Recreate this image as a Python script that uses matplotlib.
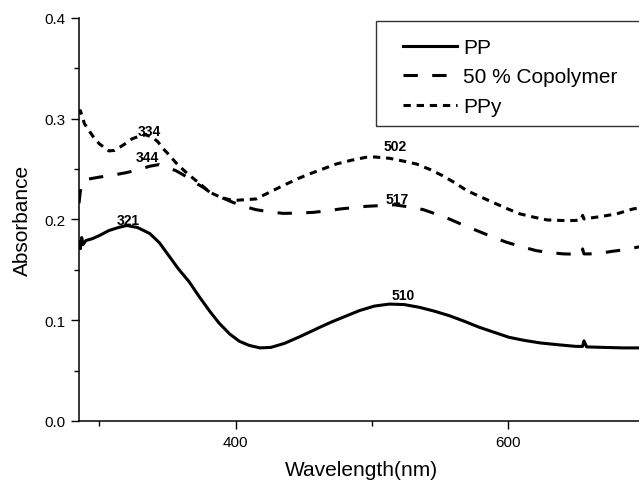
import matplotlib.pyplot as plt
from matplotlib.patches import Rectangle
from matplotlib.ticker import MultipleLocator

plt.rcParams['font.family'] = ['Liberation Sans', 'DejaVu Sans']

# absorbance spectra (wavelength in nm)
pp_nm = [285, 286, 287, 288, 290, 295, 300, 307, 314, 320, 328, 337, 344, 351,
         358, 366, 373, 381, 388, 396, 403, 410, 418, 426, 436, 447, 462, 471,
         481, 491, 502, 513, 524, 535, 546, 557, 568, 579, 590, 601, 612, 624,
         638, 650, 655, 656, 658, 670, 685, 700]
pp_abs = [0.178, 0.171, 0.182, 0.175, 0.179, 0.181, 0.184, 0.189, 0.192, 0.194,
          0.192, 0.186, 0.177, 0.164, 0.151, 0.138, 0.124, 0.109, 0.097, 0.086,
          0.079, 0.075, 0.0725, 0.073, 0.077, 0.0835, 0.093, 0.0985, 0.104,
          0.1095, 0.114, 0.116, 0.1155, 0.1128, 0.109, 0.1045, 0.099, 0.093,
          0.088, 0.083, 0.080, 0.0774, 0.0755, 0.074, 0.074, 0.0795, 0.0735,
          0.073, 0.0725, 0.0725]

copoly_nm = [285, 286, 288, 290, 300, 310, 320, 329, 337, 344, 349, 356, 362,
             368, 376, 383, 391, 398, 406, 415, 425, 435, 446, 457, 467, 477,
             487, 496, 506, 517, 527, 538, 547, 557, 568, 579, 589, 599, 610,
             621, 631, 641, 650, 654, 655, 656, 660, 668, 677, 686, 695, 700]
copoly_abs = [0.216, 0.228, 0.237, 0.2396, 0.242, 0.244, 0.2465, 0.2495, 0.2528,
              0.2545, 0.2518, 0.2485, 0.244, 0.2385, 0.232, 0.2253, 0.221, 0.217,
              0.213, 0.2097, 0.2075, 0.206, 0.2063, 0.207, 0.2085, 0.2104, 0.2118,
              0.213, 0.2137, 0.2145, 0.2125, 0.2097, 0.2055, 0.2005, 0.194, 0.188,
              0.1825, 0.1774, 0.173, 0.169, 0.167, 0.1658, 0.1655, 0.1655, 0.1707,
              0.1658, 0.1658, 0.1665, 0.1684, 0.170, 0.1724, 0.1735]

ppy_nm = [285, 286, 289, 293, 296, 300, 304, 307, 311, 315, 320, 324, 329, 334,
          339, 343, 347, 352, 356, 361, 366, 371, 376, 381, 389, 398, 406, 415,
          425, 435, 445, 454, 464, 474, 485, 496, 502, 513, 523, 533, 543, 552,
          561, 570, 579, 589, 599, 609, 619, 629, 643, 650, 654, 655, 656, 668,
          680, 692, 700]
ppy_abs = [0.305, 0.308, 0.295, 0.287, 0.281, 0.275, 0.271, 0.268, 0.2685,
           0.2717, 0.276, 0.280, 0.2825, 0.284, 0.2815, 0.277, 0.270, 0.263,
           0.2565, 0.250, 0.244, 0.2385, 0.233, 0.227, 0.222, 0.2187, 0.2195,
           0.2203, 0.227, 0.2336, 0.240, 0.245, 0.250, 0.255, 0.2587, 0.2617,
           0.262, 0.2607, 0.258, 0.255, 0.2495, 0.2435, 0.2365, 0.2286, 0.223,
           0.217, 0.211, 0.2055, 0.2023, 0.1995, 0.1988, 0.199, 0.200, 0.204,
           0.2005, 0.2028, 0.2055, 0.2104, 0.212]

# peak positions written on the curves
peak_labels = ['321', '334', '344', '502', '517', '510']
peak_x = [321, 337, 335, 517, 519, 523]
peak_y = [0.1995, 0.288, 0.2617, 0.2727, 0.2203, 0.1254]

W, H = 639, 485
fig = plt.figure(figsize=(W / 100, H / 100), dpi=100)
ax = fig.add_axes([0.1236, 0.130, 0.884, 0.831])

ax.plot(pp_nm, pp_abs, color='black', linewidth=2.2, label='PP')
ax.plot(copoly_nm, copoly_abs, color='black', linewidth=2.2,
        dashes=(4.7, 4.7), label='50 % Copolymer')
ax.plot(ppy_nm, ppy_abs, color='black', linewidth=2.2,
        dashes=(2.4, 1.9), label='PPy')

for txt, x, y in zip(peak_labels, peak_x, peak_y):
    ax.text(x, y, txt, fontsize=10, fontweight='bold', ha='center', va='center')

ax.set_xlim(285, 700)
ax.set_ylim(0, 0.4)
ax.xaxis.set_major_locator(MultipleLocator(200))
ax.xaxis.set_minor_locator(MultipleLocator(100))
ax.yaxis.set_major_locator(MultipleLocator(0.1))
ax.yaxis.set_minor_locator(MultipleLocator(0.05))
ax.yaxis.set_major_formatter(plt.FuncFormatter(lambda v, p: f'{v:.1f}'))

ax.spines['top'].set_visible(False)
ax.spines['right'].set_visible(False)
for s in ('left', 'bottom'):
    ax.spines[s].set_linewidth(1.1)
ax.tick_params(which='major', direction='out', length=6, width=1.0,
               labelsize=11, pad=4)
ax.tick_params(which='minor', direction='out', length=3.5, width=1.0)

ax.set_xlabel('Wavelength(nm)', fontsize=15, labelpad=8)
ax.set_ylabel('Absorbance', fontsize=15, labelpad=9)

# legend box runs off the right edge of the figure
fig.patches.append(Rectangle((376 / W, 1 - 127 / H), 300 / W, 105 / H,
                             transform=fig.transFigure, fill=False,
                             edgecolor='#333333', linewidth=1.0))
ax.legend(loc='upper left', bbox_to_anchor=(403 / W, 1 - 39 / H),
          bbox_transform=fig.transFigure, fontsize=15, frameon=False,
          handlelength=2.6, handletextpad=0.3, labelspacing=0.5,
          borderpad=0, borderaxespad=0)

fig.savefig('out.png', dpi=100)
